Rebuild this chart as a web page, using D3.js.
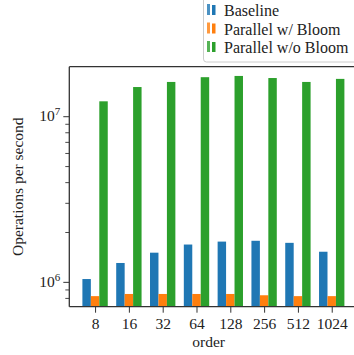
<!DOCTYPE html>
<html>
<head>
<meta charset="utf-8">
<script src="https://cdn.jsdelivr.net/npm/d3@7"></script>
<style>
  html, body { margin: 0; padding: 0; background: #fff; }
  svg { display: block; }
</style>
</head>
<body>
<svg id="chart" width="354" height="355"></svg>
<script>
// Throughput per B-tree order for each implementation
const orders = ["8", "16", "32", "64", "128", "256", "512", "1024"];
const seriesNames = ["Baseline", "Parallel w/ Bloom", "Parallel w/o Bloom"];
const baseline = [1.04e6, 1.30e6, 1.50e6, 1.68e6, 1.75e6, 1.77e6, 1.72e6, 1.52e6];
const parallelBloom = [8.2e5, 8.45e5, 8.45e5, 8.45e5, 8.45e5, 8.3e5, 8.2e5, 8.2e5];
const parallelNoBloom = [1.23e7, 1.50e7, 1.61e7, 1.72e7, 1.75e7, 1.70e7, 1.61e7, 1.68e7];
const colors = ["#1f77b4", "#ff7f0e", "#2ca02c"];
const yMajorTicks = [1e6, 1e7];
const yMinorTicks = [8e5, 9e5, 2e6, 3e6, 4e6, 5e6, 6e6, 7e6, 8e6, 9e6];

const series = [baseline, parallelBloom, parallelNoBloom];
const barWidth = 0.25;
const FONT = "'Liberation Serif', 'DejaVu Serif', serif";
const textColor = "#222";

const svg = d3.select("#chart");
const plotLeft = 69.3, plotRight = 357.5, plotTop = 66.7, plotBottom = 306.7;

const x = d3.scaleLinear().domain([-0.7625, orders.length - 1 + 0.7625]).range([plotLeft, plotRight]);
const y = d3.scaleLog().domain([7.08e5, 1.99e7]).range([plotBottom, plotTop]);

// Bars: three per group, offset around the group centre
series.forEach((vals, s) => {
  svg.append("g").selectAll("rect").data(vals).join("rect")
    .attr("x", (d, i) => x(i + (s - 1) * barWidth - barWidth / 2))
    .attr("width", x(barWidth) - x(0))
    .attr("y", d => y(d))
    .attr("height", d => plotBottom - y(d))
    .attr("fill", colors[s]);
});

// Axes
const axisColor = "#333";
const xAxis = d3.axisBottom(x)
  .tickValues(d3.range(orders.length))
  .tickFormat(i => orders[i])
  .tickSize(6).tickPadding(5);
const gx = svg.append("g").attr("transform", `translate(0,${plotBottom})`).call(xAxis);
gx.select(".domain").remove();
gx.selectAll(".tick line").attr("stroke", axisColor).attr("stroke-width", 1);
gx.selectAll(".tick text")
  .style("font-size", "15.5px").style("font-family", FONT).attr("fill", textColor);

const yMinor = d3.axisLeft(y).tickValues(yMinorTicks).tickFormat("").tickSize(4);
const gyMinor = svg.append("g").attr("transform", `translate(${plotLeft},0)`).call(yMinor);
gyMinor.select(".domain").remove();
gyMinor.selectAll(".tick line").attr("stroke", axisColor).attr("stroke-width", 0.9);

const yMajor = d3.axisLeft(y).tickValues(yMajorTicks).tickFormat("").tickSize(6);
const gyMajor = svg.append("g").attr("transform", `translate(${plotLeft},0)`).call(yMajor);
gyMajor.select(".domain").remove();
gyMajor.selectAll(".tick line").attr("stroke", axisColor).attr("stroke-width", 1);

// Power-of-ten labels with superscript exponents
yMajorTicks.forEach(v => {
  const t = svg.append("text")
    .attr("x", plotLeft - 9)
    .attr("y", y(v) + 5)
    .attr("text-anchor", "end")
    .attr("fill", textColor)
    .style("font-family", FONT)
    .style("font-size", "15.5px");
  t.append("tspan").text("10");
  t.append("tspan").attr("dy", -6).style("font-size", "11px").text(String(Math.round(Math.log10(v))));
});

// Spines
[[plotLeft, plotRight, plotBottom, plotBottom],
 [plotLeft, plotRight, plotTop, plotTop],
 [plotLeft, plotLeft, plotTop, plotBottom]].forEach(([x1, x2, y1, y2]) => {
  svg.append("line").attr("x1", x1).attr("x2", x2).attr("y1", y1).attr("y2", y2)
    .attr("stroke", axisColor).attr("stroke-width", 1.3);
});

// Axis titles
svg.append("text")
  .attr("x", (plotLeft + 354) / 2 - 3)
  .attr("y", 347)
  .attr("text-anchor", "middle")
  .attr("fill", textColor)
  .style("font-family", FONT)
  .style("font-size", "15.5px")
  .text("order");
svg.append("text")
  .attr("transform", `translate(23,${(plotTop + plotBottom) / 2}) rotate(-90)`)
  .attr("text-anchor", "middle")
  .attr("fill", textColor)
  .style("font-family", FONT)
  .style("font-size", "15.5px")
  .text("Operations per second");

// Legend
const legend = svg.append("g");
legend.append("rect")
  .attr("x", 203.5).attr("y", -10).attr("width", 170).attr("height", 72)
  .attr("rx", 3).attr("fill", "#fff").attr("fill-opacity", 0.8)
  .attr("stroke", "#ccc").attr("stroke-width", 1);
seriesNames.forEach((name, s) => {
  const base = 16 + s * 18.5;
  legend.append("rect").attr("x", 207).attr("y", base - 12).attr("width", 3).attr("height", 11)
    .attr("fill", colors[s]).attr("fill-opacity", 0.8);
  legend.append("rect").attr("x", 212).attr("y", base - 11).attr("width", 3.5).attr("height", 10)
    .attr("fill", colors[s]);
  legend.append("text").attr("x", 224).attr("y", base)
    .attr("fill", textColor)
    .style("font-family", FONT)
    .style("font-size", "16px").text(name);
});
</script>
</body>
</html>
